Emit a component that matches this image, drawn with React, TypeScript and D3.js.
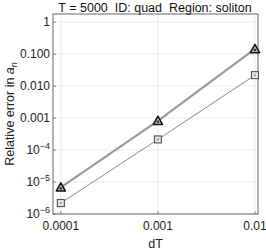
import * as d3 from 'd3';

// dT steps and errors
const steps = [0.0001, 0.001, 0.01];
const errThick = [6.8e-6, 8.2e-4, 0.145];
const errThin = [2.2e-6, 2.15e-4, 0.022];
const yTicks = [1e-6, 1e-5, 1e-4, 0.001, 0.01, 0.1, 1];
const yTickLabels = ['10|-6', '10|-5', '10|-4', '0.001', '0.010', '0.100', '1'];
const xTickLabels = ['0.0001', '0.001', '0.01'];

const App = () => {
    const margin = { top: 14, right: 8, bottom: 37, left: 53 },
        width = 266, height = 251;
    const x = d3.scaleLog().domain([8.3e-5, 1.075e-2]).range([margin.left, width - margin.right]);
    const y = d3.scaleLog().domain([1e-6, 1.8]).range([height - margin.bottom, margin.top]);
    const line = d3.line<number>().x((_, i) => x(steps[i])).y(d => y(d));
    const font = '"Liberation Sans", Arial, sans-serif';
    const tri = (cx: number, cy: number) => {
        const s = 4.6;
        return `M${cx},${cy - s}L${cx + s},${cy + s * 0.8}L${cx - s},${cy + s * 0.8}Z`;
    };
    return (
        <svg width={width} height={height} style={{ position: 'absolute', left: 0, top: 0 }} fontFamily={font}>
            <rect width={width} height={height} fill="#fff" />
            {/* grid */}
            {steps.map(s => (
                <line key={'gx' + s} x1={x(s)} x2={x(s)} y1={margin.top} y2={height - margin.bottom} stroke="#ececec" />
            ))}
            {yTicks.map(t => (
                <line key={'gy' + t} x1={margin.left} x2={width - margin.right} y1={y(t)} y2={y(t)} stroke="#ececec" />
            ))}
            {/* ticks */}
            {steps.map(s => (
                <line key={'tx' + s} x1={x(s)} x2={x(s)} y1={height - margin.bottom} y2={height - margin.bottom - 3} stroke="#888" />
            ))}
            {yTicks.map(t => (
                <line key={'ty' + t} x1={margin.left} x2={margin.left + 3} y1={y(t)} y2={y(t)} stroke="#888" />
            ))}
            <rect x={margin.left} y={margin.top} width={width - margin.left - margin.right}
                height={height - margin.top - margin.bottom} fill="none" stroke="#666" strokeWidth={1} />
            {/* series */}
            <path d={line(errThin) || ''} fill="none" stroke="#8a8a8a" strokeWidth={1} />
            <path d={line(errThick) || ''} fill="none" stroke="#9a9a9a" strokeWidth={2.2} />
            {errThin.map((d, i) => (
                <g key={'sq' + i}>
                    <rect x={x(steps[i]) - 3.5} y={y(d) - 3.5} width={7} height={7} fill="#e4e4e4" stroke="#444" strokeWidth={1} />
                    <circle cx={x(steps[i])} cy={y(d)} r={1} fill="#888" />
                </g>
            ))}
            {errThick.map((d, i) => (
                <g key={'tr' + i}>
                    <path d={tri(x(steps[i]), y(d))} fill="#bbb" stroke="#111" strokeWidth={1.5} strokeLinejoin="round" />
                    <circle cx={x(steps[i])} cy={y(d) + 1} r={1.3} fill="#333" />
                </g>
            ))}
            {/* tick labels */}
            {xTickLabels.map((l, i) => (
                <text key={'lx' + i} x={x(steps[i])} y={230} textAnchor="middle" fontSize={12} fill="#222">{l}</text>
            ))}
            {yTicks.map((t, i) => {
                const [b, e] = yTickLabels[i].split('|');
                return (
                    <text key={'ly' + i} x={50} y={y(t) + 4.3} textAnchor="end" fontSize={12} fill="#222">
                        {e ? <>{b}<tspan fontSize={9} dy={-5}>{'\u2212' + e.slice(1)}</tspan></> : b}
                    </text>
                );
            })}
            {/* titles */}
            <text x={155} y={12} textAnchor="middle" fontSize={12.5} fill="#111" xmlSpace="preserve">
                T = 5000  ID: quad  Region: soliton
            </text>
            <text x={(margin.left + width - margin.right) / 2} y={248} textAnchor="middle" fontSize={12.5} fill="#222">dT</text>
            <text transform={`translate(14,${(margin.top + height - margin.bottom) / 2})rotate(-90)`} textAnchor="middle" fontSize={12.5} fill="#222">
                Relative error in <tspan fontStyle="italic">a</tspan><tspan fontStyle="italic" fontSize={9} dy={3}>n</tspan>
            </text>
        </svg>
    );
};

export default App;
